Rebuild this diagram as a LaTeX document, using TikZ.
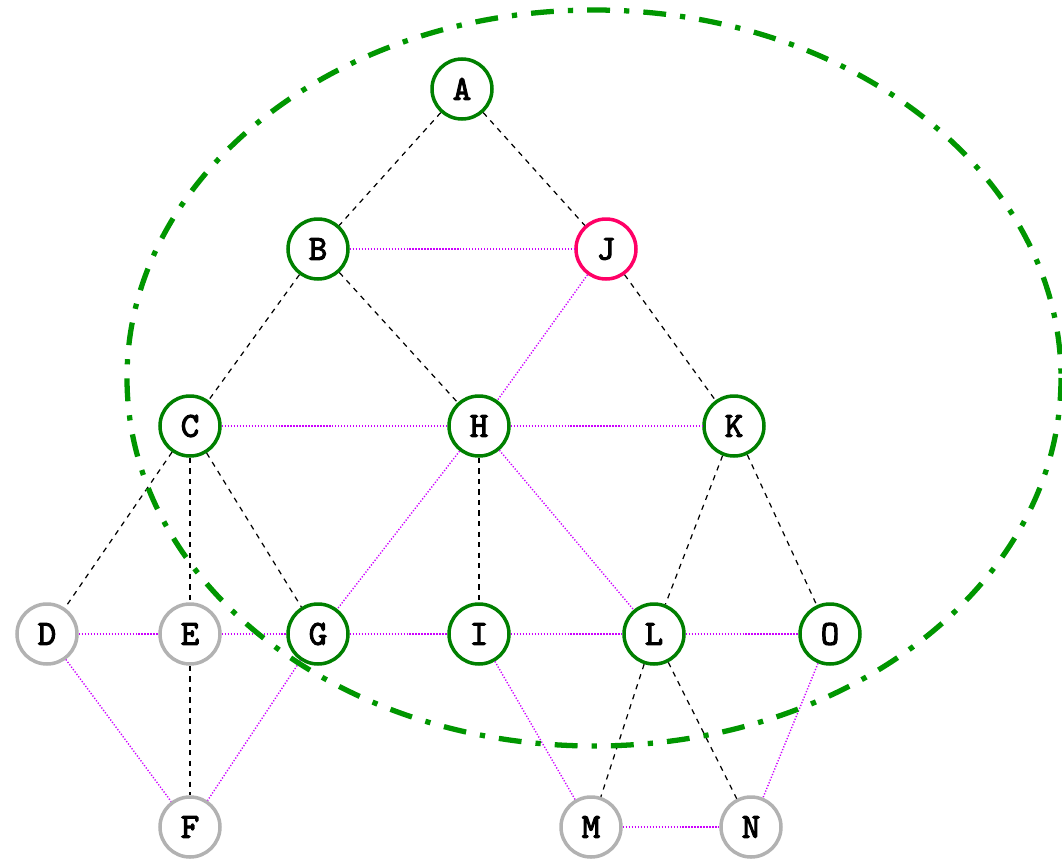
\documentclass[tikz,border=0pt]{standalone}
\usepackage{fontspec}
\newfontfamily\vtxfont{lmmono10-regular.otf}[FakeBold=3]
\usepackage{tikz}
\definecolor{vgreen}{RGB}{0, 128, 0}
\definecolor{egreen}{RGB}{0, 150, 0}
\definecolor{vpink}{RGB}{255, 0, 102}
\definecolor{lmag}{RGB}{204, 0, 255}

\begin{document}
\begin{tikzpicture}[x=0.02cm, y=-0.02cm,
      vtx/.style={circle, draw=vgreen, line width=2pt, minimum size=1.2cm,
        inner sep=0pt, font=\fontsize{20}{20}\selectfont\vtxfont},
      outvtx/.style={vtx, draw=black!30},
      curvtx/.style={vtx, draw=vpink},
      tree/.style={dashed, line width=0.7pt},
      side/.style={lmag, line width=0.8pt, dash pattern=on 0.7pt off 1pt}]
    \useasboundingbox (0,0) rectangle (1062,859);
    \node[vtx] (A) at (462,89)  {A};
    \node[vtx] (B) at (318,249) {B};
    \node[curvtx] (J) at (606,249) {J};
    \node[vtx] (C) at (190,426) {C};
    \node[vtx] (H) at (479,426) {H};
    \node[vtx] (K) at (734,426) {K};
    \node[outvtx] (D) at (47,634)  {D};
    \node[outvtx] (E) at (190,634) {E};
    \node[vtx] (G) at (318,634) {G};
    \node[vtx] (I) at (479,634) {I};
    \node[vtx] (L) at (654,634) {L};
    \node[vtx] (O) at (830,634) {O};
    \node[outvtx] (F) at (190,827) {F};
    \node[outvtx] (M) at (591,827) {M};
    \node[outvtx] (N) at (751,827) {N};
    \foreach \x/\y in {A/B, A/J, B/C, B/H, J/K, C/D, C/E, C/G, H/I, K/L, K/O, E/F, L/M, L/N}
      \draw[tree] (\x) -- (\y);
    \foreach \x/\y in {B/J, J/H, C/H, H/K, H/G, H/L, D/E, E/G, G/I, I/L, L/O, D/F, G/F, I/M, M/N, O/N}
      \draw[side] (\x) -- (\y);
    \draw[egreen, line width=3pt, dash pattern=on 13pt off 8pt on 3pt off 8pt]
      (594,378) ellipse [x radius=467, y radius=368];
  \end{tikzpicture}
\end{document}
